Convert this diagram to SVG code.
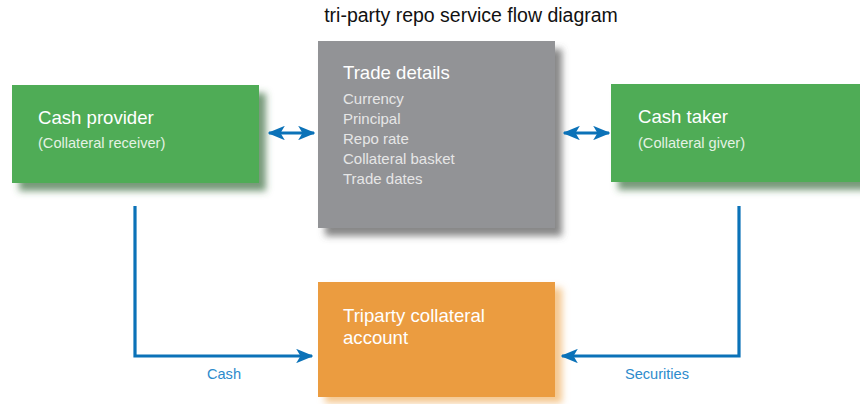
<svg xmlns="http://www.w3.org/2000/svg" width="860" height="404" viewBox="0 0 860 404">
<style>
.t{font-family:"Liberation Sans",Arial,sans-serif}
.h{font-size:18.6px;fill:#ffffff}
.s{font-size:14.6px;fill:#e4f2e4}
.g{font-size:15px;fill:#e6e6e6}
.lbl{font-size:14.6px;fill:#2d8bcc}
.conn{fill:none;stroke:#0b72b8;stroke-width:3.2}
</style>
<defs>
<filter id="shG" x="-10%" y="-10%" width="130%" height="140%"><feDropShadow dx="7" dy="8" stdDeviation="3.5" flood-color="#3c6e3f" flood-opacity="0.7"/></filter>
<filter id="shK" x="-10%" y="-10%" width="130%" height="140%"><feDropShadow dx="7" dy="8" stdDeviation="3.5" flood-color="#555" flood-opacity="0.7"/></filter>
<filter id="shO" x="-10%" y="-10%" width="130%" height="140%"><feDropShadow dx="7" dy="6" stdDeviation="3.5" flood-color="#f0b060" flood-opacity="0.7"/></filter>
<marker id="ah" viewBox="0 0 12 10" refX="11" refY="5" markerWidth="5.4" markerHeight="4.5" orient="auto-start-reverse" markerUnits="strokeWidth">
<path d="M0,0 L12,5 L0,10 L3,5 Z" fill="#0b72b8"/>
</marker>
</defs>
<rect width="860" height="404" fill="#ffffff"/>
<text class="t" x="471" y="22" font-size="19.5" fill="#111" text-anchor="middle">tri-party repo service flow diagram</text>

<g id="cash-provider">
<rect x="12" y="85" width="247" height="98" fill="#4fac57" filter="url(#shG)"/>
<text class="t h" x="38" y="124">Cash provider</text>
<text class="t s" x="38" y="148">(Collateral receiver)</text>
</g>

<g id="trade-details">
<rect x="318" y="41" width="237" height="187" fill="#929396" filter="url(#shK)"/>
<text class="t h" x="343" y="79">Trade details</text>
<text class="t g" x="343" y="104">Currency</text>
<text class="t g" x="343" y="124">Principal</text>
<text class="t g" x="343" y="144">Repo rate</text>
<text class="t g" x="343" y="164">Collateral basket</text>
<text class="t g" x="343" y="184">Trade dates</text>
</g>

<g id="cash-taker">
<rect x="611" y="84" width="260" height="98" fill="#4fac57" filter="url(#shG)"/>
<text class="t h" x="638" y="123">Cash taker</text>
<text class="t s" x="638" y="148">(Collateral giver)</text>
</g>

<g id="triparty-account">
<rect x="318" y="282" width="237" height="115" fill="#eb9c3f" filter="url(#shO)"/>
<text class="t h" x="343" y="322">Triparty collateral</text>
<text class="t h" x="343" y="344">account</text>
</g>

<g id="connectors">
<line class="conn" x1="269" y1="133" x2="314" y2="133" marker-start="url(#ah)" marker-end="url(#ah)"/>
<line class="conn" x1="564" y1="133" x2="609" y2="133" marker-start="url(#ah)" marker-end="url(#ah)"/>
<path class="conn" d="M135,206 L135,356 L312,356" marker-end="url(#ah)"/>
<path class="conn" d="M739,206 L739,356 L562,356" marker-end="url(#ah)"/>
<text class="t lbl" x="224" y="379" text-anchor="middle">Cash</text>
<text class="t lbl" x="657" y="379" text-anchor="middle">Securities</text>
</g>
</svg>
